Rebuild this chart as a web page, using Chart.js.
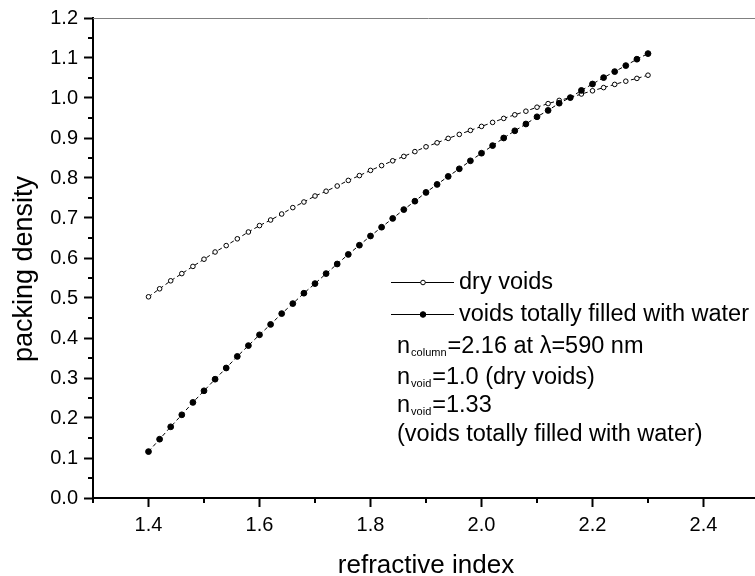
<!DOCTYPE html>
<html>
<head>
<meta charset="utf-8">
<script src="https://cdn.jsdelivr.net/npm/chart.js@4.4.1/dist/chart.umd.min.js"></script>
<style>
  html, body { margin: 0; padding: 0; background: #fff; overflow: hidden; width: 755px; height: 576px; }
  #wrap { width: 755px; height: 576px; overflow: hidden; }
  canvas { display: block; }
</style>
</head>
<body>
<div id="wrap">
  <!-- the plot frame runs on to 2.5, a few pixels past the visible right edge -->
  <canvas id="chart" width="764" height="576"></canvas>
</div>
<script>
// Refractive index of the film (x) and the packing density derived from it (y)
const refractiveIndex = [
  1.40, 1.42, 1.44, 1.46, 1.48, 1.50, 1.52, 1.54, 1.56, 1.58,
  1.60, 1.62, 1.64, 1.66, 1.68, 1.70, 1.72, 1.74, 1.76, 1.78,
  1.80, 1.82, 1.84, 1.86, 1.88, 1.90, 1.92, 1.94, 1.96, 1.98,
  2.00, 2.02, 2.04, 2.06, 2.08, 2.10, 2.12, 2.14, 2.16, 2.18,
  2.20, 2.22, 2.24, 2.26, 2.28, 2.30
];

const dryVoids = [
  0.503, 0.523, 0.543, 0.561, 0.579, 0.597, 0.615, 0.631, 0.648, 0.665,
  0.681, 0.695, 0.710, 0.726, 0.740, 0.755, 0.767, 0.780, 0.794, 0.806,
  0.819, 0.831, 0.843, 0.854, 0.866, 0.878, 0.888, 0.899, 0.909, 0.919,
  0.929, 0.939, 0.949, 0.958, 0.967, 0.977, 0.986, 0.994, 1.001, 1.010,
  1.018, 1.026, 1.034, 1.042, 1.049, 1.057
];

const waterFilled = [
  0.116, 0.147, 0.178, 0.208, 0.239, 0.268, 0.297, 0.325, 0.354, 0.381,
  0.408, 0.434, 0.461, 0.486, 0.512, 0.536, 0.561, 0.585, 0.609, 0.632,
  0.655, 0.677, 0.699, 0.721, 0.742, 0.764, 0.784, 0.804, 0.823, 0.843,
  0.862, 0.881, 0.900, 0.918, 0.935, 0.953, 0.969, 0.987, 1.001, 1.019,
  1.035, 1.051, 1.066, 1.081, 1.097, 1.111
];

// Axis ticks
const xTickValues  = [1.4, 1.6, 1.8, 2.0, 2.2, 2.4];
const xMinorValues = [1.3, 1.5, 1.7, 1.9, 2.1, 2.3];
const yTickValues  = [0.0, 0.1, 0.2, 0.3, 0.4, 0.5, 0.6, 0.7, 0.8, 0.9, 1.0, 1.1, 1.2];
const yMinorValues = [0.05, 0.15, 0.25, 0.35, 0.45, 0.55, 0.65, 0.75, 0.85, 0.95, 1.05, 1.15];

const FONT = '"Liberation Sans", Arial, Helvetica, sans-serif';

// Minor tick marks, top frame line, y title and the in-plot legend / notes
const decorations = {
  id: 'decorations',
  afterDraw(chart) {
    const { ctx, chartArea, scales: { x, y } } = chart;
    ctx.save();

    // top frame
    ctx.strokeStyle = '#808080';
    ctx.lineWidth = 1;
    ctx.beginPath();
    ctx.moveTo(chartArea.left, chartArea.top + 0.5);
    ctx.lineTo(chart.width, chartArea.top + 0.5);
    ctx.stroke();

    // minor ticks
    ctx.strokeStyle = '#000';
    ctx.lineWidth = 2;
    ctx.beginPath();
    yMinorValues.forEach(v => {
      const py = Math.round(y.getPixelForValue(v));
      ctx.moveTo(chartArea.left - 5, py);
      ctx.lineTo(chartArea.left, py);
    });
    xMinorValues.forEach(v => {
      const px = Math.round(x.getPixelForValue(v));
      ctx.moveTo(px, chartArea.bottom);
      ctx.lineTo(px, chartArea.bottom + 5);
    });
    ctx.stroke();

    // y axis title
    ctx.fillStyle = '#000';
    ctx.save();
    ctx.translate(25, 269);
    ctx.rotate(-Math.PI / 2);
    ctx.font = '27px ' + FONT;
    ctx.textAlign = 'center';
    ctx.textBaseline = 'middle';
    ctx.fillText('packing density', 0, 0);
    ctx.restore();

    // legend samples
    const big = '23.5px ' + FONT;
    const small = '11px ' + FONT;
    const sample = (cy, filled) => {
      ctx.strokeStyle = '#000';
      ctx.lineWidth = 1;
      ctx.beginPath();
      ctx.moveTo(391, cy + 0.5);
      ctx.lineTo(454, cy + 0.5);
      ctx.stroke();
      ctx.beginPath();
      ctx.arc(423, cy + 0.5, filled ? 2.8 : 2.3, 0, Math.PI * 2);
      ctx.fillStyle = filled ? '#000' : '#fff';
      ctx.fill();
      ctx.stroke();
      ctx.fillStyle = '#000';
    };
    ctx.textAlign = 'left';
    ctx.textBaseline = 'alphabetic';

    sample(282, false);
    ctx.font = big;
    ctx.fillText('dry voids', 459, 289);

    sample(314, true);
    ctx.font = big;
    ctx.fillText('voids totally filled with water', 459, 321);

    // text with a subscript after the leading symbol
    const subLine = (base, sub, rest, bx, by) => {
      ctx.font = big;
      ctx.fillText(base, bx, by);
      let cx = bx + ctx.measureText(base).width + 1;
      ctx.font = small;
      ctx.fillText(sub, cx, by + 3);
      cx += ctx.measureText(sub).width + 1;
      ctx.font = big;
      ctx.fillText(rest, cx, by);
    };
    subLine('n', 'column', '=2.16 at \u03bb=590 nm', 397, 353);
    subLine('n', 'void', '=1.0 (dry voids)', 397, 384);
    subLine('n', 'void', '=1.33', 397, 412);
    ctx.font = big;
    ctx.fillText('(voids totally filled with water)', 397, 441);

    ctx.restore();
  }
};

const toPoints = ys => refractiveIndex.map((xv, i) => ({ x: xv, y: ys[i] }));

new Chart(document.getElementById('chart'), {
  type: 'scatter',
  data: {
    datasets: [
      {
        label: 'voids totally filled with water',
        data: toPoints(waterFilled),
        showLine: true,
        borderColor: '#000',
        borderWidth: 1,
        borderDash: [4, 3],
        pointStyle: 'circle',
        pointRadius: 2.9,
        pointBackgroundColor: '#000',
        pointBorderColor: '#000',
        pointBorderWidth: 1
      },
      {
        label: 'dry voids',
        data: toPoints(dryVoids),
        showLine: true,
        borderColor: '#000',
        borderWidth: 1,
        borderDash: [4, 3],
        pointStyle: 'circle',
        pointRadius: 2.3,
        pointBackgroundColor: '#fff',
        pointBorderColor: '#000',
        pointBorderWidth: 1
      }
    ]
  },
  options: {
    responsive: false,
    animation: false,
    events: [],
    layout: { padding: { top: 15, left: 0, right: 0, bottom: 0 } },
    plugins: {
      legend: { display: false },
      tooltip: { enabled: false }
    },
    scales: {
      x: {
        type: 'linear',
        min: 1.3,
        max: 2.5,
        afterBuildTicks: s => { s.ticks = xTickValues.map(v => ({ value: v })); },
        afterFit: s => { s.height = 78; },
        ticks: {
          callback: v => Number(v).toFixed(1),
          font: { family: FONT, size: 20 },
          color: '#000',
          padding: 6,
          maxRotation: 0,
          autoSkip: false
        },
        grid: { drawOnChartArea: false, drawTicks: true, tickLength: 9, tickWidth: 2, tickColor: '#000' },
        border: { display: true, color: '#000', width: 2 },
        title: {
          display: true,
          text: 'refractive index',
          color: '#000',
          font: { family: FONT, size: 26, lineHeight: 0.6 },
          padding: { top: 0, bottom: 2.5 }
        }
      },
      y: {
        type: 'linear',
        min: 0,
        max: 1.2,
        afterBuildTicks: s => { s.ticks = yTickValues.map(v => ({ value: v })); },
        afterFit: s => { s.width = 93; },
        ticks: {
          callback: v => Number(v).toFixed(1),
          font: { family: FONT, size: 20 },
          color: '#000',
          padding: 6,
          autoSkip: false
        },
        grid: { drawOnChartArea: false, drawTicks: true, tickLength: 9, tickWidth: 2, tickColor: '#000' },
        border: { display: true, color: '#000', width: 2 },
        title: { display: false }
      }
    }
  },
  plugins: [decorations]
});
</script>
</body>
</html>
